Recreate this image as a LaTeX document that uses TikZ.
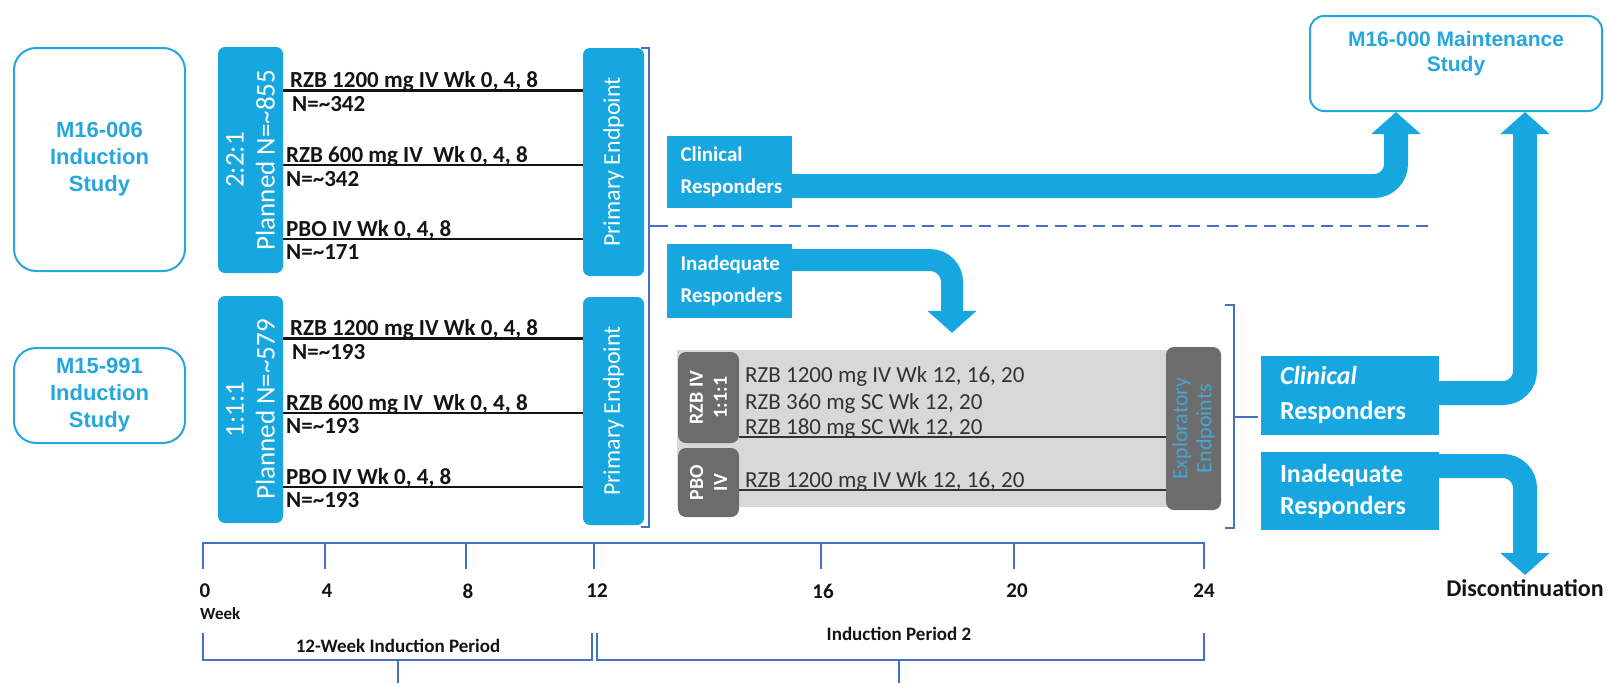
\documentclass[tikz,border=0pt]{standalone}
\usepackage{fontspec}
\setmainfont{Carlito}
\newfontfamily\arialf{Liberation Sans}
\usetikzlibrary{arrows.meta}
\definecolor{cy}{RGB}{22,167,225}
\definecolor{cyb}{RGB}{38,166,222}
\definecolor{sl}{RGB}{70,112,196}
\definecolor{lg}{RGB}{216,216,216}
\definecolor{dg}{RGB}{108,108,108}
\definecolor{exc}{RGB}{70,165,215}
\definecolor{tx}{RGB}{20,20,20}
\newcommand\myfs[2]{\fontsize{#1}{#2}\selectfont}
\begin{document}
\begin{tikzpicture}[x=1pt,y=-1pt,
 studybox/.style={draw=cyb,line width=2pt,rounded corners=22pt,text=cyb,font=\arialf\bfseries\myfs{22}{27},align=center,inner sep=0pt},
 bluebar/.style={fill=cy,rounded corners=7pt,inner sep=0pt},
 bartext/.style={rotate=90,text=white,align=center,inner sep=0pt},
 armthin/.style={draw=tx,line width=1.6pt},
 armthick/.style={draw=tx,line width=3pt},
 armtext/.style={anchor=base west,inner sep=0pt,text=tx,font=\bfseries\myfs{23}{23}},
 respbox/.style={fill=cy,inner sep=0pt,text=white,align=left},
 fat/.style={draw=cy,line width=24pt,rounded corners=22pt,-{Triangle[length=22pt,width=48pt]}},
 brk/.style={draw=sl,line width=2pt},
 axisln/.style={draw=sl,line width=2.6pt},
 ticklab/.style={text=tx,font=\bfseries\myfs{21}{21},inner sep=0pt},
 graytext/.style={anchor=base west,inner sep=0pt,text=black!80,font=\myfs{23}{23}},
 tabbox/.style={fill=dg,rounded corners=8pt,inner sep=0pt},
]
\useasboundingbox (0,0) rectangle (1607,683);

% study boxes
\node[studybox,minimum width=171pt,minimum height=223pt] (s1) at (99.5,159.5) {M16-006\\Induction\\Study};
\node[studybox,minimum width=171pt,minimum height=95pt] (s2) at (99.5,395.5) {M15-991\\Induction\\Study};

% randomisation bars
\node[bluebar,minimum width=65pt,minimum height=226pt] (r1) at (250.5,160) {};
\node[bartext,font=\myfs{27}{31}] (r1t) at (r1.center) {2:2:1\\Planned N=\textasciitilde855};
\node[bluebar,minimum width=65pt,minimum height=227pt] (r2) at (250.5,409.5) {};
\node[bartext,font=\myfs{27}{31}] (r2t) at (r2.center) {1:1:1\\Planned N=\textasciitilde579};

% primary endpoint bars
\node[bluebar,minimum width=61pt,minimum height=228pt] (pe1) at (613.5,162) {};
\node[bartext,font=\myfs{24}{24}] (pe1t) at (pe1.center) {Primary Endpoint};
\node[bluebar,minimum width=61pt,minimum height=228pt] (pe2) at (613.5,411) {};
\node[bartext,font=\myfs{24}{24}] (pe2t) at (pe2.center) {Primary Endpoint};

% arms group 1
\draw[armthick] (r1.east |- 0,90) -- (pe1.west |- 0,90);
\draw[armthin] (r1.east |- 0,165) -- (pe1.west |- 0,165);
\draw[armthin] (r1.east |- 0,239) -- (pe1.west |- 0,239);
\node[armtext] (a11) at (290,87) {RZB 1200 mg IV Wk 0, 4, 8};
\node[armtext] (n11) at (292,111) {N=\textasciitilde342};
\node[armtext] (a12) at (286,162) {RZB 600 mg IV\ \ Wk 0, 4, 8};
\node[armtext] (n12) at (286,186) {N=\textasciitilde342};
\node[armtext] (a13) at (286,236) {PBO IV Wk 0, 4, 8};
\node[armtext] (n13) at (286,259) {N=\textasciitilde171};

% arms group 2
\draw[armthick] (r2.east |- 0,338) -- (pe2.west |- 0,338);
\draw[armthin] (r2.east |- 0,413) -- (pe2.west |- 0,413);
\draw[armthin] (r2.east |- 0,487) -- (pe2.west |- 0,487);
\node[armtext] (a21) at (290,335) {RZB 1200 mg IV Wk 0, 4, 8};
\node[armtext] (n21) at (292,359) {N=\textasciitilde193};
\node[armtext] (a22) at (286,410) {RZB 600 mg IV\ \ Wk 0, 4, 8};
\node[armtext] (n22) at (286,433) {N=\textasciitilde193};
\node[armtext] (a23) at (286,484) {PBO IV Wk 0, 4, 8};
\node[armtext] (n23) at (286,507) {N=\textasciitilde193};

% bracket after primary endpoint and dashed divider
\draw[brk] (641,48) -- (649,48) -- (649,527) -- (641,527);
\draw[brk] (649,226) -- (656,226);
\draw[draw=sl,line width=2.5pt,dash pattern=on 12pt off 7pt] (656,226) -- (1428,226);

% induction period 2 block
\node[fill=lg,minimum width=522pt,minimum height=157pt,inner sep=0pt] (gray) at (938,428.5) {};
\node[tabbox,minimum width=61pt,minimum height=91pt] (t1) at (708.5,397.5) {};
\node[bartext,font=\bfseries\myfs{20}{24}] (t1t) at (t1.center) {RZB IV\\1:1:1};
\node[tabbox,minimum width=61pt,minimum height=69pt] (t2) at (708.5,482.5) {};
\node[bartext,font=\bfseries\myfs{20}{24}] (t2t) at (t2.center) {PBO\\IV};
\node[tabbox,minimum width=55pt,minimum height=163pt] (ex) at (1193.5,428.5) {};
\node[bartext,text=exc,font=\myfs{22}{24}] (ext) at (ex.center) {Exploratory\\Endpoints};
\node[graytext] (g1) at (745,382) {RZB 1200 mg IV Wk 12, 16, 20};
\node[graytext] (g2) at (745,409) {RZB 360 mg SC Wk 12, 20};
\node[graytext] (g3) at (745,434) {RZB 180 mg SC Wk 12, 20};
\draw[draw=black!80,line width=1.3pt] (t1.east |- 0,437) -- (ex.west |- 0,437);
\node[graytext] (g4) at (745,487) {RZB 1200 mg IV Wk 12, 16, 20};
\draw[draw=black!80,line width=1.3pt] (t2.east |- 0,490) -- (ex.west |- 0,490);
\draw[brk] (1225,305) -- (1234,305) -- (1234,528) -- (1225,528);
\draw[brk] (1234,417) -- (1258,417);

% responder boxes
\node[respbox,minimum width=125pt,minimum height=72pt,text width=98pt,font=\bfseries\myfs{21}{32}] (c1) at (729.5,172) {Clinical\\Responders};
\node[respbox,minimum width=125pt,minimum height=74pt,text width=98pt,font=\bfseries\myfs{21}{32}] (i1) at (729.5,281) {Inadequate\\Responders};
\node[studybox,rounded corners=14pt,minimum width=292pt,minimum height=95pt] (mt) at (1456,63.5) {};
\node[text=cyb,font=\arialf\bfseries\myfs{21}{25},align=center,inner sep=0pt] (mtt) at (1456,54) {M16-000 Maintenance\\Study};
\node[respbox,minimum width=178pt,minimum height=79pt,text width=140pt,font=\bfseries\myfs{26}{35}] (c2) at (1350,395) {\textit{Clinical}\\Responders};
\node[respbox,minimum width=178pt,minimum height=78pt,text width=140pt,font=\bfseries\myfs{26}{32}] (i2) at (1350,491) {Inadequate\\Responders};
\node[anchor=north,inner sep=0pt,text=tx,font=\bfseries\myfs{24}{24}] (disc) at (1525,579) {Discontinuation};

% thick arrows
\draw[fat] (c1.east |- 0,186) -| ([xshift=-60pt]mt.south);
\draw[fat,line width=22pt] (i1.east |- 0,260) -| ([xshift=14pt,yshift=17pt]gray.north);
\draw[fat] (c2.east |- 0,393) -| ([xshift=69pt]mt.south);
\draw[fat] (i2.east |- 0,466) -| ([yshift=4pt]disc.north);

% timeline
\draw[axisln] (203,569) -- (203,543) -- (1204,543) -- (1204,569);
\foreach \xx in {325,466,594,821,1014} \draw[axisln] (\xx,543) -- (\xx,569);
\foreach \xx/\lab [count=\i] in {205/0,327/4,468/8,597/12,823/16,1017/20,1204/24}
  \node[ticklab] (w\i) at (\xx,591) {\lab};
\node[ticklab,anchor=west,font=\bfseries\myfs{17}{17}] (wk) at (200,614) {Week};
\draw[brk,line width=1.6pt] (203,633) -- (203,660) -- (592,660) -- (592,633);
\draw[brk,line width=1.6pt] (398,660) -- (398,683);
\draw[brk,line width=1.6pt] (597,633) -- (597,660) -- (1204,660) -- (1204,633);
\draw[brk,line width=1.6pt] (899,660) -- (899,683);
\node[ticklab,font=\bfseries\myfs{19}{19}] (p1) at (398,646) {12-Week Induction Period};
\node[ticklab,font=\bfseries\myfs{19}{19}] (p2) at (899,634) {Induction Period 2};
\end{tikzpicture}
\end{document}
